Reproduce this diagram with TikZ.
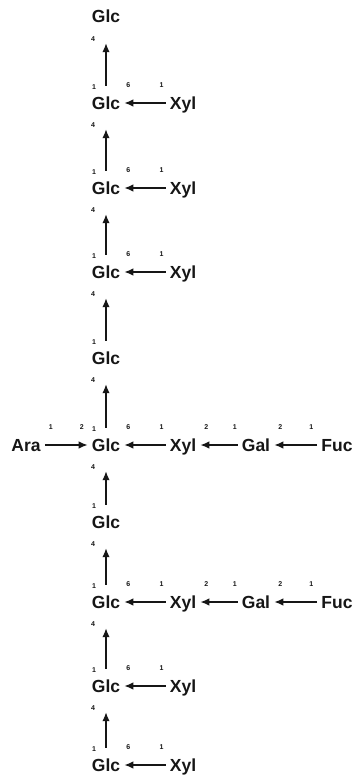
\documentclass[tikz,border=0pt]{standalone}
\usepackage{fontspec}
\setmainfont{Liberation Sans}
\usetikzlibrary{arrows.meta}
\definecolor{inkcol}{RGB}{22,22,22}

\begin{document}
\begin{tikzpicture}[x=1pt,y=-1pt,>={Latex[length=9pt,width=7.5pt]},
  sugar/.style={inner sep=0pt,text height=12pt,text depth=0pt,inkcol,
    font=\fontsize{17.5}{20}\selectfont\bfseries},
  lbl/.style={inner sep=0pt,inkcol,font=\fontsize{7}{8}\selectfont\bfseries},
  link/.style={->,inkcol,line width=1.5pt,shorten >=4pt,shorten <=4pt},
  chain/.style={->,inkcol,line width=1.5pt,shorten >=20pt,shorten <=11pt}]
  \useasboundingbox (0,0) rectangle (356,779);
  % backbone of glucose units
  \node[sugar] (g0) at (106,17)  {Glc};
  \node[sugar] (g1) at (106,103) {Glc};
  \node[sugar] (g2) at (106,188) {Glc};
  \node[sugar] (g3) at (106,272) {Glc};
  \node[sugar] (g4) at (106,358) {Glc};
  \node[sugar] (g5) at (106,445) {Glc};
  \node[sugar] (g6) at (106,522) {Glc};
  \node[sugar] (g7) at (106,602) {Glc};
  \node[sugar] (g8) at (106,686) {Glc};
  \node[sugar] (g9) at (106,765) {Glc};
  % side chains
  \node[sugar] (x1) at (183,103) {Xyl};
  \node[sugar] (x2) at (183,188) {Xyl};
  \node[sugar] (x3) at (183,272) {Xyl};
  \node[sugar] (ara) at (26,445) {Ara};
  \node[sugar] (x5) at (183,445) {Xyl};
  \node[sugar] (gal5) at (256,445) {Gal};
  \node[sugar] (fuc5) at (337,445) {Fuc};
  \node[sugar] (x7) at (183,602) {Xyl};
  \node[sugar] (gal7) at (256,602) {Gal};
  \node[sugar] (fuc7) at (337,602) {Fuc};
  \node[sugar] (x8) at (183,686) {Xyl};
  \node[sugar] (x9) at (183,765) {Xyl};

  % 1->4 links
  \draw[chain] (g1.north) -- (g0.south) node[lbl,at start,xshift=-12pt,yshift=10pt]{1} node[lbl,at end,xshift=-13pt,yshift=-16pt]{4};
  \draw[chain] (g2.north) -- (g1.south) node[lbl,at start,xshift=-12pt,yshift=10pt]{1} node[lbl,at end,xshift=-13pt,yshift=-16pt]{4};
  \draw[chain] (g3.north) -- (g2.south) node[lbl,at start,xshift=-12pt,yshift=10pt]{1} node[lbl,at end,xshift=-13pt,yshift=-16pt]{4};
  \draw[chain] (g4.north) -- (g3.south) node[lbl,at start,xshift=-12pt,yshift=10pt]{1} node[lbl,at end,xshift=-13pt,yshift=-16pt]{4};
  \draw[chain] (g5.north) -- (g4.south) node[lbl,at start,xshift=-12pt,yshift=10pt]{1} node[lbl,at end,xshift=-13pt,yshift=-16pt]{4};
  \draw[chain] (g6.north) -- (g5.south) node[lbl,at start,xshift=-12pt,yshift=10pt]{1} node[lbl,at end,xshift=-13pt,yshift=-16pt]{4};
  \draw[chain] (g7.north) -- (g6.south) node[lbl,at start,xshift=-12pt,yshift=10pt]{1} node[lbl,at end,xshift=-13pt,yshift=-16pt]{4};
  \draw[chain] (g8.north) -- (g7.south) node[lbl,at start,xshift=-12pt,yshift=10pt]{1} node[lbl,at end,xshift=-13pt,yshift=-16pt]{4};
  \draw[chain] (g9.north) -- (g8.south) node[lbl,at start,xshift=-12pt,yshift=10pt]{1} node[lbl,at end,xshift=-13pt,yshift=-16pt]{4};

  % 1->6 xylose links
  \draw[link] (x1) -- (g1) node[lbl,at start,xshift=-8pt,yshift=18pt]{1} node[lbl,at end,xshift=8pt,yshift=18pt]{6};
  \draw[link] (x2) -- (g2) node[lbl,at start,xshift=-8pt,yshift=18pt]{1} node[lbl,at end,xshift=8pt,yshift=18pt]{6};
  \draw[link] (x3) -- (g3) node[lbl,at start,xshift=-8pt,yshift=18pt]{1} node[lbl,at end,xshift=8pt,yshift=18pt]{6};
  \draw[link] (x5) -- (g5) node[lbl,at start,xshift=-8pt,yshift=18pt]{1} node[lbl,at end,xshift=8pt,yshift=18pt]{6};
  \draw[link] (x7) -- (g7) node[lbl,at start,xshift=-8pt,yshift=18pt]{1} node[lbl,at end,xshift=8pt,yshift=18pt]{6};
  \draw[link] (x8) -- (g8) node[lbl,at start,xshift=-8pt,yshift=18pt]{1} node[lbl,at end,xshift=8pt,yshift=18pt]{6};
  \draw[link] (x9) -- (g9) node[lbl,at start,xshift=-8pt,yshift=18pt]{1} node[lbl,at end,xshift=8pt,yshift=18pt]{6};

  % arabinose and the fucosyl-galactose arms
  \draw[link] (ara) -- (g5) node[lbl,at start,xshift=10pt,yshift=18pt]{1} node[lbl,at end,xshift=-10pt,yshift=18pt]{2};
  \draw[link] (gal5) -- (x5) node[lbl,at start,xshift=-7pt,yshift=18pt]{1} node[lbl,at end,xshift=10pt,yshift=18pt]{2};
  \draw[link] (fuc5) -- (gal5) node[lbl,at start,xshift=-10pt,yshift=18pt]{1} node[lbl,at end,xshift=10pt,yshift=18pt]{2};
  \draw[link] (gal7) -- (x7) node[lbl,at start,xshift=-7pt,yshift=18pt]{1} node[lbl,at end,xshift=10pt,yshift=18pt]{2};
  \draw[link] (fuc7) -- (gal7) node[lbl,at start,xshift=-10pt,yshift=18pt]{1} node[lbl,at end,xshift=10pt,yshift=18pt]{2};
\end{tikzpicture}
\end{document}
